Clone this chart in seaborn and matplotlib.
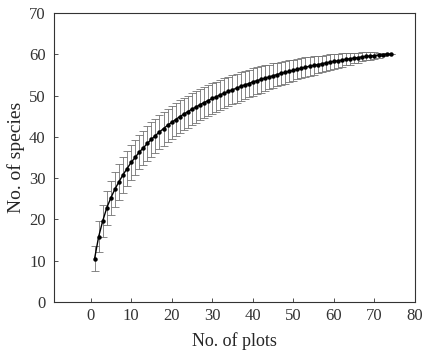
import numpy as np
import pandas as pd
import matplotlib.pyplot as plt
import seaborn as sns

# Species accumulation curve (mean +/- SD)
plots = list(range(1, 75))
species = [10.5, 15.8, 19.6, 22.8, 25.2, 27.3, 29.1, 30.8, 32.3, 33.8,
           35.0, 36.3, 37.3, 38.4, 39.4, 40.3, 41.2, 42.0, 42.8, 43.5,
           44.2, 44.9, 45.5, 46.1, 46.7, 47.2, 47.8, 48.3, 48.8, 49.3,
           49.7, 50.2, 50.6, 51.0, 51.4, 51.8, 52.2, 52.6, 52.9, 53.3,
           53.6, 53.9, 54.2, 54.5, 54.8, 55.1, 55.4, 55.6, 55.9, 56.1,
           56.4, 56.6, 56.9, 57.1, 57.3, 57.5, 57.7, 57.9, 58.1, 58.3,
           58.4, 58.6, 58.8, 58.9, 59.1, 59.2, 59.4, 59.5, 59.6, 59.7,
           59.8, 59.9, 60.0, 60.0]
sd = [3.0, 3.7, 3.9, 4.1, 4.2, 4.3, 4.3, 4.3, 4.3, 4.3,
      4.3, 4.2, 4.2, 4.2, 4.2, 4.1, 4.1, 4.1, 4.0, 4.0,
      4.0, 4.0, 3.9, 3.9, 3.9, 3.8, 3.8, 3.8, 3.7, 3.7,
      3.7, 3.6, 3.6, 3.5, 3.5, 3.5, 3.4, 3.4, 3.3, 3.3,
      3.2, 3.2, 3.1, 3.0, 3.0, 2.9, 2.8, 2.8, 2.7, 2.6,
      2.5, 2.4, 2.4, 2.3, 2.2, 2.1, 2.0, 2.0, 1.9, 1.8,
      1.7, 1.6, 1.5, 1.4, 1.3, 1.2, 1.1, 1.0, 0.9, 0.8,
      0.6, 0.4, 0.2, 0.0]

df = pd.DataFrame({"plots": plots, "species": species, "sd": sd})

sns.set_style("ticks")
plt.rcParams['font.family'] = ['Liberation Serif', 'DejaVu Serif']

fig, ax = plt.subplots(figsize=(4.24, 3.56), dpi=100)
fig.subplots_adjust(left=0.1274, right=0.9788, top=0.9635, bottom=0.1517)

ax.errorbar(df["plots"], df["species"], yerr=df["sd"], fmt="none",
            ecolor="0.45", elinewidth=0.6, capsize=3, capthick=0.6)
sns.lineplot(data=df, x="plots", y="species", ax=ax, color="black",
             linewidth=1.0, marker="o", markersize=3.2, markeredgewidth=0)

ax.set_xlim(-9, 80)
ax.set_ylim(0, 70)
ax.set_xticks(range(0, 81, 10))
ax.set_yticks(range(0, 71, 10))
ax.set_xlabel("No. of plots", fontsize=13, labelpad=6)
ax.set_ylabel("No. of species", fontsize=14, labelpad=3)
ax.tick_params(axis="both", direction="in", length=3, width=0.6,
               labelsize=12, colors="0.2")
ax.tick_params(axis="x", pad=4)
ax.tick_params(axis="y", pad=6)
for s in ax.spines.values():
    s.set_visible(True)
    s.set_linewidth(0.8)
    s.set_color("0.2")

plt.savefig("out.png", dpi=100)
plt.close()
